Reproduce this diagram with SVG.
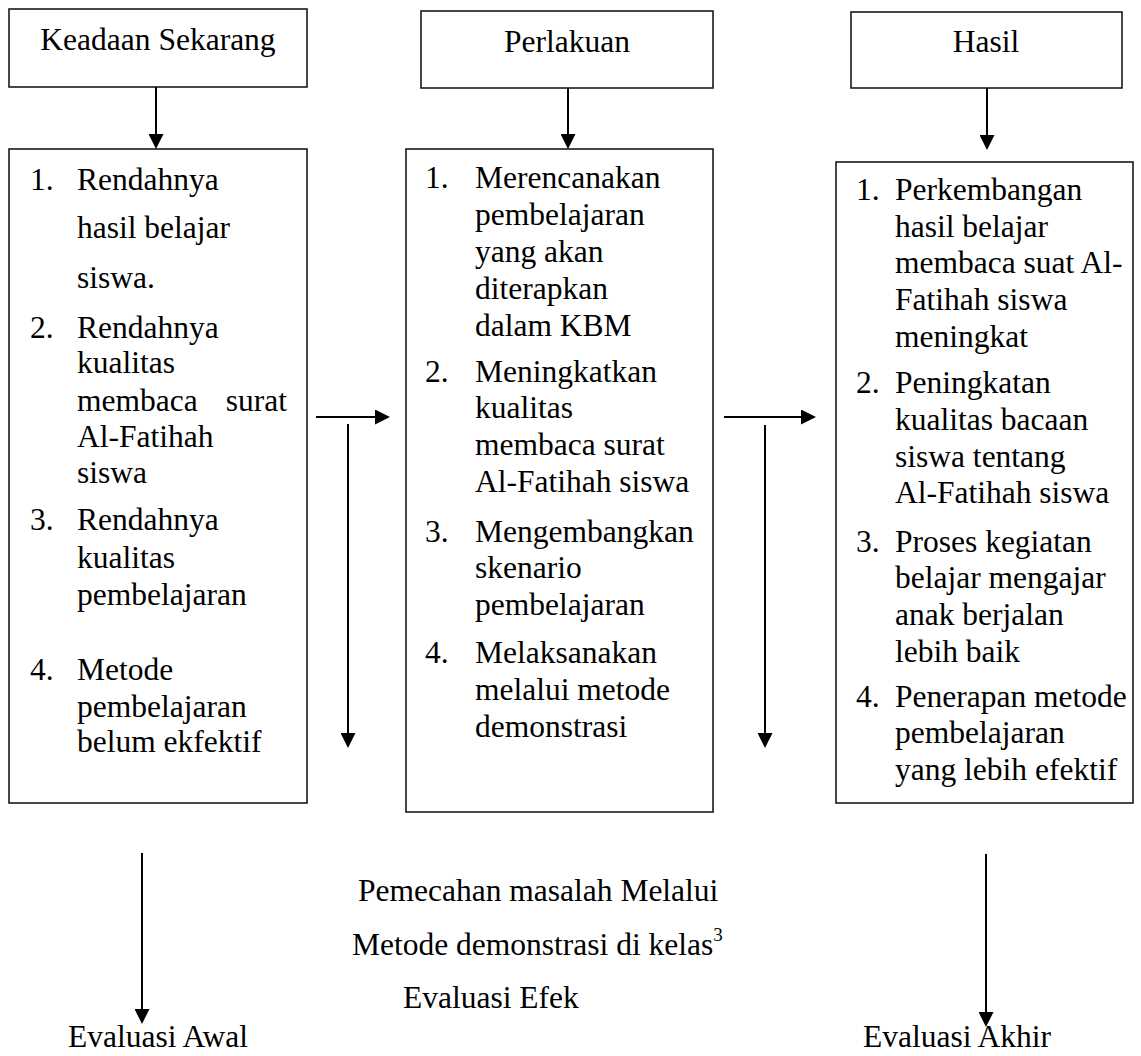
<svg xmlns="http://www.w3.org/2000/svg" width="1141" height="1056" viewBox="0 0 1141 1056">
<style>
.box{fill:#fff;stroke:#1a1a1a;stroke-width:1.6}
.t{font-family:"Liberation Serif","Times New Roman",serif;font-size:31.5px;fill:#000}
.c{text-anchor:middle}
.e{text-anchor:end}
.ln{stroke:#000;stroke-width:2;fill:none;marker-end:url(#ah)}
</style>
<defs>
<marker id="ah" markerWidth="15" markerHeight="15" refX="7" refY="7.5" orient="auto" markerUnits="userSpaceOnUse">
<path d="M0,0 L15,7.5 L0,15 z" fill="#000"/>
</marker>
</defs>
<rect width="1141" height="1056" fill="#fff"/>

<g id="node-keadaan">
<rect class="box" x="9" y="9" width="298" height="78"/>
<text class="t c" x="158" y="50">Keadaan Sekarang</text>
</g>
<g id="node-perlakuan">
<rect class="box" x="421" y="11" width="292" height="77"/>
<text class="t c" x="567" y="52">Perlakuan</text>
</g>
<g id="node-hasil">
<rect class="box" x="851" y="12" width="271" height="76"/>
<text class="t c" x="986" y="52">Hasil</text>
</g>

<g id="node-keadaan-list">
<rect class="box" x="9" y="149" width="298" height="654"/>
<text class="t" x="30" y="190">1.</text>
<text class="t" x="77" y="190">Rendahnya</text>
<text class="t" x="77" y="238">hasil belajar</text>
<text class="t" x="77" y="288">siswa.</text>
<text class="t" x="30" y="338">2.</text>
<text class="t" x="77" y="338">Rendahnya</text>
<text class="t" x="77" y="373">kualitas</text>
<text class="t" x="77" y="411">membaca</text>
<text class="t e" x="287" y="411">surat</text>
<text class="t" x="77" y="447">Al-Fatihah</text>
<text class="t" x="77" y="483">siswa</text>
<text class="t" x="30" y="530">3.</text>
<text class="t" x="77" y="530">Rendahnya</text>
<text class="t" x="77" y="568">kualitas</text>
<text class="t" x="77" y="605">pembelajaran</text>
<text class="t" x="30" y="680">4.</text>
<text class="t" x="77" y="680">Metode</text>
<text class="t" x="77" y="717">pembelajaran</text>
<text class="t" x="77" y="752">belum ekfektif</text>
</g>

<g id="node-perlakuan-list">
<rect class="box" x="406" y="149" width="307" height="663"/>
<text class="t" x="425" y="188">1.</text>
<text class="t" x="475" y="188">Merencanakan</text>
<text class="t" x="475" y="225">pembelajaran</text>
<text class="t" x="475" y="262">yang akan</text>
<text class="t" x="475" y="299">diterapkan</text>
<text class="t" x="475" y="336">dalam KBM</text>
<text class="t" x="425" y="382">2.</text>
<text class="t" x="475" y="382">Meningkatkan</text>
<text class="t" x="475" y="418">kualitas</text>
<text class="t" x="475" y="455">membaca surat</text>
<text class="t" x="475" y="492">Al-Fatihah siswa</text>
<text class="t" x="425" y="542">3.</text>
<text class="t" x="475" y="542">Mengembangkan</text>
<text class="t" x="475" y="578">skenario</text>
<text class="t" x="475" y="615">pembelajaran</text>
<text class="t" x="425" y="663">4.</text>
<text class="t" x="475" y="663">Melaksanakan</text>
<text class="t" x="475" y="700">melalui metode</text>
<text class="t" x="475" y="737">demonstrasi</text>
</g>

<g id="node-hasil-list">
<rect class="box" x="836" y="162" width="297" height="641"/>
<text class="t" x="856" y="200">1.</text>
<text class="t" x="895" y="200">Perkembangan</text>
<text class="t" x="895" y="237">hasil belajar</text>
<text class="t" x="895" y="273">membaca suat Al-</text>
<text class="t" x="895" y="310">Fatihah siswa</text>
<text class="t" x="895" y="347">meningkat</text>
<text class="t" x="856" y="393">2.</text>
<text class="t" x="895" y="393">Peningkatan</text>
<text class="t" x="895" y="430">kualitas bacaan</text>
<text class="t" x="895" y="467">siswa tentang</text>
<text class="t" x="895" y="503">Al-Fatihah siswa</text>
<text class="t" x="856" y="552">3.</text>
<text class="t" x="895" y="552">Proses kegiatan</text>
<text class="t" x="895" y="588">belajar mengajar</text>
<text class="t" x="895" y="625">anak berjalan</text>
<text class="t" x="895" y="662">lebih baik</text>
<text class="t" x="856" y="707">4.</text>
<text class="t" x="895" y="707">Penerapan metode</text>
<text class="t" x="895" y="743">pembelajaran</text>
<text class="t" x="895" y="780">yang lebih efektif</text>
</g>

<g id="label-pemecahan">
<text class="t" x="358" y="901">Pemecahan masalah Melalui</text>
<text class="t" x="352" y="955">Metode demonstrasi di kelas<tspan dy="-14" font-size="19">3</tspan></text>
<text class="t" x="403" y="1008">Evaluasi Efek</text>
</g>
<g id="label-evaluasi-awal">
<text class="t" x="68" y="1047">Evaluasi Awal</text>
</g>
<g id="label-evaluasi-akhir">
<text class="t" x="863" y="1047">Evaluasi Akhir</text>
</g>

<g id="connectors">
<line class="ln" x1="156" y1="87" x2="156" y2="141"/>
<line class="ln" x1="568" y1="88" x2="568" y2="141"/>
<line class="ln" x1="987" y1="88" x2="987" y2="142"/>
<line class="ln" x1="316" y1="417" x2="382" y2="417"/>
<line class="ln" x1="348" y1="424" x2="348" y2="740"/>
<line class="ln" x1="724" y1="417" x2="808" y2="417"/>
<line class="ln" x1="765" y1="425" x2="765" y2="740"/>
<line class="ln" x1="142" y1="853" x2="142" y2="1016"/>
<line class="ln" x1="986" y1="854" x2="986" y2="1019"/>
</g>
</svg>
